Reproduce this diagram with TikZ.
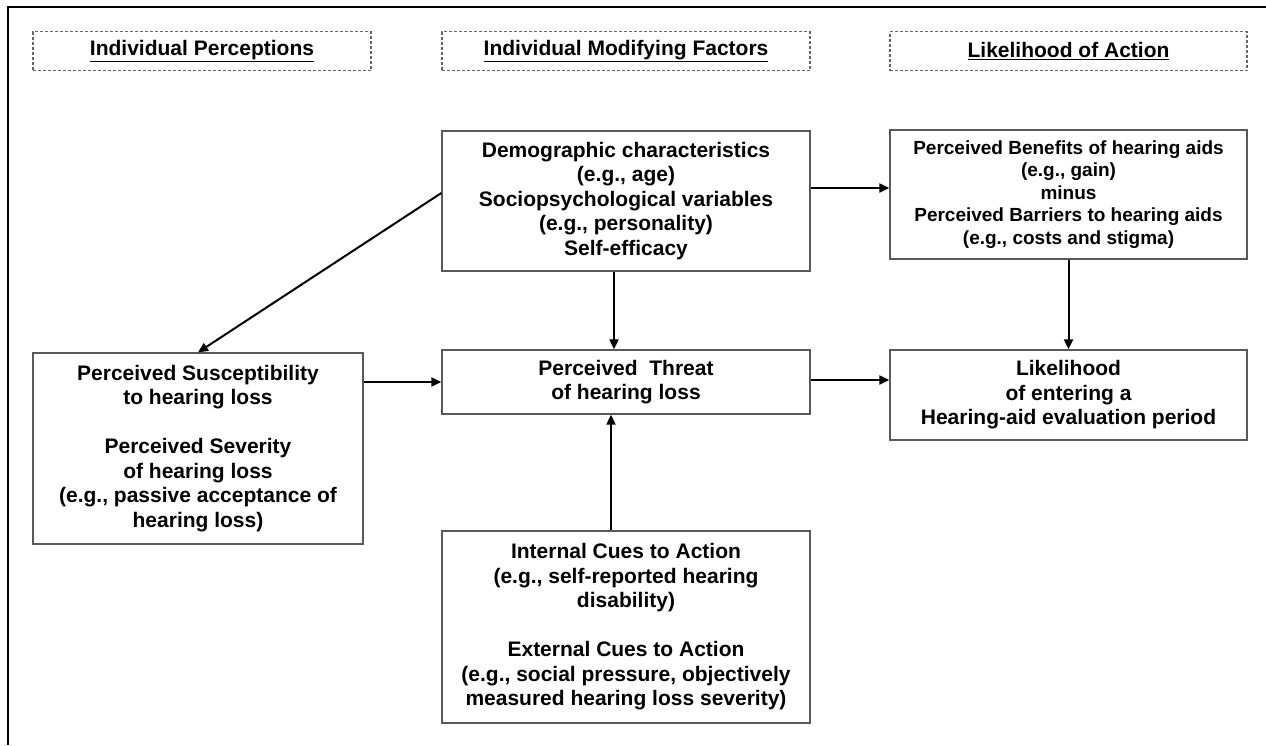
\documentclass[tikz,border=0pt]{standalone}
\usepackage{fontspec}
\setmainfont{Liberation Sans}
\usetikzlibrary{arrows.meta, positioning}

\tikzset{
    box/.style={draw=black!65, line width=1.3pt, align=center, inner sep=2pt,
        font=\bfseries\fontsize{21}{24.5}\selectfont},
    headbox/.style={draw=black!60, densely dashed, line width=1.1pt, minimum height=39pt,
        font=\bfseries\fontsize{21}{24}\selectfont},
    arr/.style={-{Triangle[length=10pt,width=9pt]}, line width=2pt},
}

\begin{document}
\begin{tikzpicture}[x=1pt, y=-1pt]
    \useasboundingbox (0,0) rectangle (1266,745);
    % frame
    \draw[line width=2.5pt] (1266,7) -- (8,7) -- (8,745);

    % column headers
    \node[headbox, minimum width=338pt] (hperc) at (202,51) {\underline{Individual Perceptions}};
    \node[headbox, minimum width=368pt] (hmod) at (626,51) {\underline{Individual Modifying Factors}};
    \node[headbox, minimum width=357pt] (hact) at (1068.5,51) {\underline{Likelihood of Action}};

    % boxes
    \node[box, minimum width=368pt, minimum height=140pt] (demo) at (626,201) {
        Demographic characteristics\\
        (e.g., age)\\
        Sociopsychological variables\\
        (e.g., personality)\\
        Self-efficacy
    };
    \node[box, minimum width=357pt, minimum height=129pt, font=\bfseries\fontsize{19}{22.5}\selectfont] (benefit) at (1068.5,194.5) {
        Perceived Benefits of hearing aids\\
        (e.g., gain)\\
        minus\\
        Perceived Barriers to hearing aids\\
        (e.g., costs and stigma)
    };
    \node[box, minimum width=330pt, minimum height=191pt] (susc) at (198,448.5) {
        Perceived Susceptibility\\
        to hearing loss\\[24.5pt]
        Perceived Severity\\
        of hearing loss\\
        (e.g., passive acceptance of\\
        hearing loss)
    };
    \node[box, minimum width=368pt, minimum height=64pt] (threat) at (626,382) {
        Perceived~ Threat\\
        of hearing loss
    };
    \node[box, minimum width=357pt, minimum height=90pt] (like) at (1068.5,395) {
        Likelihood\\
        of entering a\\
        Hearing-aid evaluation period
    };
    \node[box, minimum width=368pt, minimum height=192pt] (cues) at (626,627) {
        Internal Cues to Action\\
        (e.g., self-reported hearing\\
        disability)\\[24.5pt]
        External Cues to Action\\
        (e.g., social pressure, objectively\\
        measured hearing loss severity)
    };

    % arrows
    \draw[arr] ([yshift=6.5pt]benefit.west -| demo.east) -- ([yshift=6.5pt]benefit.west);
    \draw[arr] ([yshift=8pt]demo.west) -- (susc.north);
    \draw[arr] ([xshift=-12pt]demo.south) -- ([xshift=-12pt]threat.north);
    \draw[arr] (threat.west -| susc.east) -- (threat.west);
    \draw[arr] ([xshift=-15pt]cues.north) -- ([xshift=-15pt]threat.south);
    \draw[arr] (benefit.south) -- (like.north);
    \draw[arr] ([yshift=2pt]threat.east) -- ([yshift=2pt]threat.east -| like.west);
\end{tikzpicture}
\end{document}
